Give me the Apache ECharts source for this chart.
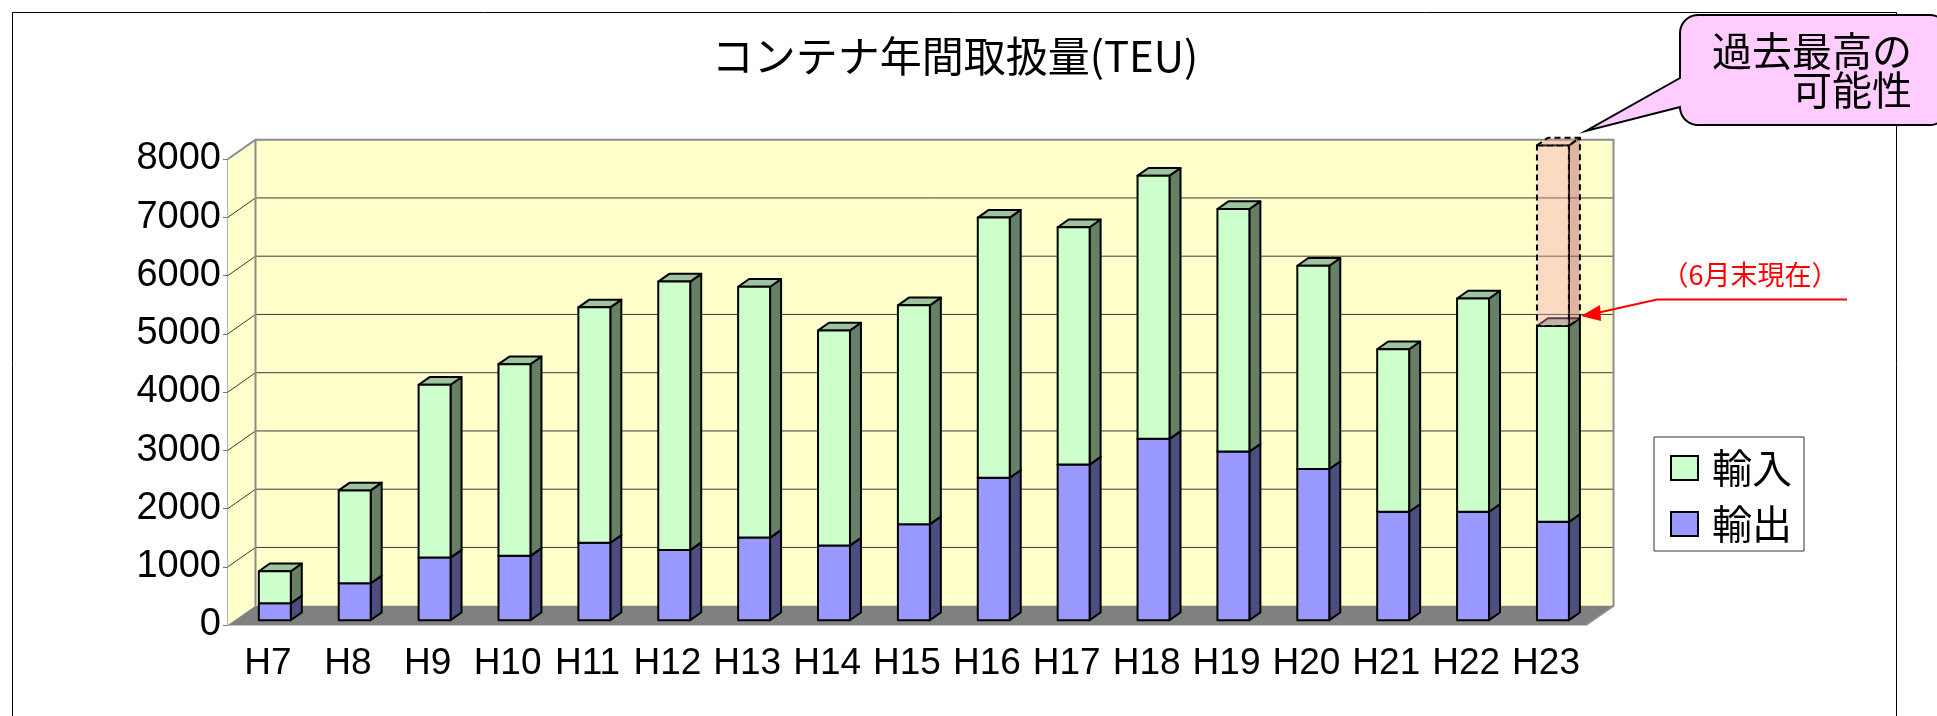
<!DOCTYPE html>
<html>
<head>
<meta charset="utf-8">
<script src="https://cdn.jsdelivr.net/npm/echarts@6.0.0/dist/echarts.min.js"></script>
<style>
  html, body { margin: 0; padding: 0; background: #fff; }
  #main { width: 1937px; height: 716px; }
</style>
</head>
<body>
<div id="main"></div>
<script>
// ---- data ----
const categories = ['H7','H8','H9','H10','H11','H12','H13','H14','H15','H16','H17','H18','H19','H20','H21','H22','H23'];
const exportTEU  = [290, 633, 1075, 1105, 1329, 1203, 1418, 1283, 1648, 2446, 2671, 3113, 2895, 2595, 1862, 1862, 1688]; // 輸出
const importTEU  = [550, 1595, 2966, 3290, 4041, 4610, 4306, 3691, 3757, 4465, 4075, 4518, 4163, 3490, 2789, 3661, 3362]; // 輸入
const projectedIndex = 16;      // H23
const projectedTotal = 8150;    // 過去最高の可能性 (dashed bar top)
const yMin = 0, yMax = 8000, yStep = 1000;
const seriesNames = ['輸入', '輸出'];

// ---- 3D look parameters (style only) ----
const DEPTH = [27.5, -19.3];
const BAR_OFF = 0.25, BAR_DEPTH = 0.4, BAR_W = 0.40;

const exportData = categories.map((c, i) => [i, 0, exportTEU[i]]);
const importData = categories.map((c, i) => [i, exportTEU[i], exportTEU[i] + importTEU[i]]);
const ghostData = [[projectedIndex, exportTEU[projectedIndex] + importTEU[projectedIndex], projectedTotal]];

function barRenderer(front, side, top, dashed) {
  return function (params, api) {
    const i = api.value(0), lo = api.value(1), hi = api.value(2);
    const band = api.size([1, 0])[0];
    const pLo = api.coord([i, lo]), pHi = api.coord([i, hi]);
    const sx = DEPTH[0] * BAR_OFF, sy = DEPTH[1] * BAR_OFF;
    const dx = DEPTH[0] * BAR_DEPTH, dy = DEPTH[1] * BAR_DEPTH;
    const w = band * BAR_W;
    const x0 = pLo[0] - w / 2 + sx, x1 = x0 + w;
    const yb = pLo[1] + sy, yt = pHi[1] + sy;
    const line = { stroke: '#000', lineWidth: 2, lineJoin: 'round' };
    if (dashed) { line.lineDash = [6, 4]; }
    return {
      type: 'group',
      children: [
        { type: 'polygon', shape: { points: [[x1, yt], [x1 + dx, yt + dy], [x1 + dx, yb + dy], [x1, yb]] }, style: Object.assign({ fill: side }, line) },
        { type: 'polygon', shape: { points: [[x0, yt], [x0 + dx, yt + dy], [x1 + dx, yt + dy], [x1, yt]] }, style: Object.assign({ fill: top }, line) },
        { type: 'rect', shape: { x: x0, y: yt, width: w, height: yb - yt }, style: Object.assign({ fill: front }, line) }
      ]
    };
  };
}

function renderWalls(params, api) {
  const cs = params.coordSys;
  const L = cs.x, R = cs.x + cs.width, T = cs.y, B = cs.y + cs.height;
  const dx = DEPTH[0], dy = DEPTH[1];
  const ch = [];
  ch.push({ type: 'polygon', shape: { points: [[L, T], [L + dx, T + dy], [L + dx, B + dy], [L, B]] }, style: { fill: '#FFFFCC' } });
  ch.push({ type: 'rect', shape: { x: L + dx, y: T + dy, width: R - L, height: B - T }, style: { fill: '#FFFFCC' } });
  ch.push({ type: 'polygon', shape: { points: [[L, B], [L + dx, B + dy], [R + dx, B + dy], [R, B]] }, style: { fill: '#808080' } });
  for (let v = yMin + yStep; v < yMax; v += yStep) {
    const y = api.coord([0, v])[1];
    ch.push({ type: 'polyline', shape: { points: [[L, y], [L + dx, y + dy], [R + dx, y + dy]] }, style: { stroke: '#3a3a3a', lineWidth: 1, fill: null } });
  }
  ch.push({ type: 'polyline', shape: { points: [[L, T], [L + dx, T + dy], [R + dx, T + dy], [R + dx, B + dy], [R, B]] }, style: { stroke: '#8c8c8c', lineWidth: 2, fill: null } });
  ch.push({ type: 'polyline', shape: { points: [[L + dx, T + dy], [L + dx, B + dy]] }, style: { stroke: '#8c8c8c', lineWidth: 2, fill: null } });
  return { type: 'group', children: ch };
}

// rounded callout outline (decoration)
function calloutPoints(x0, y0, x1, y1, r, tip, pUp) {
  const pts = [];
  function arc(cx, cy, a0, a1) {
    const n = 10;
    for (let k = 0; k <= n; k++) {
      const a = a0 + (a1 - a0) * k / n;
      pts.push([cx + r * Math.cos(a), cy + r * Math.sin(a)]);
    }
  }
  arc(x0 + r, y0 + r, Math.PI, 1.5 * Math.PI);
  arc(x1 - r, y0 + r, 1.5 * Math.PI, 2 * Math.PI);
  arc(x1 - r, y1 - r, 0, 0.5 * Math.PI);
  arc(x0 + r, y1 - r, 0.5 * Math.PI, Math.PI);
  pts.push(tip);
  pts.push([x0, pUp]);
  return pts;
}

const chart = echarts.init(document.getElementById('main'), null, { renderer: 'canvas', width: 1937, height: 716 });

const option = {
  backgroundColor: '#ffffff',
  animation: false,
  title: {
    text: 'コンテナ年間取扱量(TEU)',
    left: 955, top: 35, textAlign: 'center', padding: 0,
    textStyle: { fontSize: 42, fontWeight: 'normal', fontFamily: 'Noto Sans CJK JP', color: '#000' }
  },
  legend: {
    orient: 'vertical', left: 1654, top: 437,
    itemWidth: 27, itemHeight: 24, itemGap: 14,
    padding: [10, 12, 6, 16],
    borderColor: '#333', borderWidth: 1, backgroundColor: '#fff',
    selectedMode: false,
    textStyle: { fontSize: 40, fontFamily: 'Noto Sans CJK JP', color: '#000', padding: [0, 0, 0, 9], lineHeight: 42 },
    data: [
      { name: seriesNames[0], icon: 'rect', itemStyle: { color: '#CCFFCC', borderColor: '#000', borderWidth: 2 } },
      { name: seriesNames[1], icon: 'rect', itemStyle: { color: '#9999FF', borderColor: '#000', borderWidth: 2 } }
    ]
  },
  grid: { left: 228, top: 159, width: 1358, height: 466, containLabel: false, outerBoundsMode: 'none' },
  xAxis: {
    type: 'category', data: categories, boundaryGap: true,
    axisLine: { show: true, lineStyle: { color: '#C4C4C4', width: 2 } },
    axisTick: { show: true, inside: true, length: 7, interval: 0, lineStyle: { color: '#555' } },
    axisLabel: { interval: 0, fontSize: 37, fontFamily: 'Liberation Sans', color: '#000', margin: 20 },
    splitLine: { show: false }
  },
  yAxis: {
    type: 'value', min: yMin, max: yMax, interval: yStep,
    axisLine: { show: true, lineStyle: { color: '#9a9a9a', width: 1.5 } },
    axisTick: { show: true, length: 5, lineStyle: { color: '#777' } },
    axisLabel: { fontSize: 38, fontFamily: 'Liberation Sans', color: '#000', margin: 7, padding: [18, 0, 0, 0],
                 formatter: function (v) { return String(v); } },
    splitLine: { show: false }
  },
  series: [
    { type: 'custom', name: 'walls', z: 1, silent: true, data: [[0, 0, 0]], encode: { x: 0, y: [1, 2] }, renderItem: renderWalls },
    { type: 'custom', name: seriesNames[1], z: 2, data: exportData, encode: { x: 0, y: [1, 2] },
      itemStyle: { color: '#9999FF' }, renderItem: barRenderer('#9999FF', '#4D4D80', '#7373BF', false) },
    { type: 'custom', name: seriesNames[0], z: 3, data: importData, encode: { x: 0, y: [1, 2] },
      itemStyle: { color: '#CCFFCC' }, renderItem: barRenderer('#CCFFCC', '#668066', '#9DC49D', false) },
    { type: 'custom', name: 'projected', z: 4, data: ghostData, encode: { x: 0, y: [1, 2] },
      renderItem: barRenderer('rgba(242,160,180,0.38)', 'rgba(193,105,120,0.5)', 'rgba(220,150,160,0.45)', true) }
  ],
  graphic: [
    { type: 'rect', z: 0, silent: true, shape: { x: 12.5, y: 12.5, width: 1884, height: 760 }, style: { fill: null, stroke: '#000', lineWidth: 1 } },
    { type: 'polygon', z: 100, silent: true, shape: { points: calloutPoints(1680, 15, 1948, 125, 18, [1586, 131], 78) },
      style: { fill: '#FFCCFF', stroke: '#000', lineWidth: 2 } },
    { type: 'text', z: 101, silent: true,
      style: { text: '過去最高の\n可能性', x: 1912, y: 31, align: 'right', textAlign: 'right', verticalAlign: 'top', textVerticalAlign: 'top',
               fontSize: 40, lineHeight: 39, fontFamily: 'Noto Sans CJK JP', fill: '#000' } },
    { type: 'text', z: 101, silent: true,
      style: { text: '（6月末現在）', x: 1750, y: 275, align: 'center', textAlign: 'center', verticalAlign: 'middle', textVerticalAlign: 'middle',
               fontSize: 27, fontFamily: 'Noto Sans CJK JP', fill: '#FF0000' } },
    { type: 'polyline', z: 101, silent: true, shape: { points: [[1847, 299.5], [1657, 299.5], [1599, 312.5]] }, style: { stroke: '#FF0000', lineWidth: 2, fill: null } },
    { type: 'polygon', z: 101, silent: true, shape: { points: [[1581, 316], [1600, 305], [1601, 321]] }, style: { fill: '#FF0000' } }
  ]
};

chart.setOption(option);
</script>
</body>
</html>
